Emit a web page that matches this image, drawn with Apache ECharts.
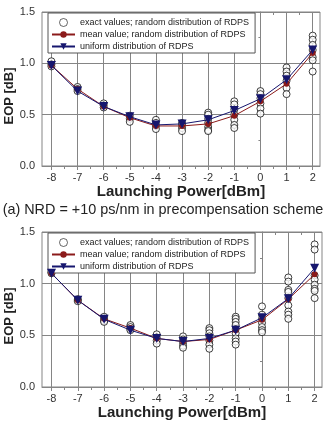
<!DOCTYPE html>
<html lang="en">
<head>
<meta charset="UTF-8">
<title>EOP vs launching power</title>
<script src="https://cdn.jsdelivr.net/npm/echarts@6/dist/echarts.min.js"></script>
<style>
  html, body { margin: 0; padding: 0; background: #fff; }
  #main { width: 326px; height: 424px; }
</style>
</head>
<body>
<div id="main"></div>
<script type="text/javascript">
// launching power [dBm]
var powers = [-8, -7, -6, -5, -4, -3, -2, -1, 0, 1, 2];
var halfTicks = [-8, -7.5, -7, -6.5, -6, -5.5, -5, -4.5, -4, -3.5, -3, -2.5, -2, -1.5, -1, -0.5, 0, 0.5, 1, 1.5, 2];

var nameExact = 'exact values; random distribution of RDPS';
var nameMean = 'mean value; random distribution of RDPS';
var nameUniform = 'uniform distribution of RDPS';

// (a) NRD = +10 ps/nm
var exactA = [
    [1.02, 0.99, 0.97],
    [0.77, 0.75, 0.73],
    [0.61, 0.59, 0.57],
    [0.49, 0.46, 0.43],
    [0.45, 0.42, 0.39, 0.36],
    [0.42, 0.40, 0.37, 0.34],
    [0.52, 0.50, 0.46, 0.42, 0.38, 0.35, 0.34],
    [0.63, 0.60, 0.55, 0.50, 0.45, 0.40, 0.37],
    [0.73, 0.70, 0.66, 0.61, 0.56, 0.51],
    [0.96, 0.92, 0.88, 0.83, 0.76, 0.70],
    [1.27, 1.23, 1.18, 1.13, 1.06, 1.03, 0.92]
];
var meanA = [0.98, 0.75, 0.58, 0.47, 0.39, 0.39, 0.41, 0.49, 0.63, 0.80, 1.10];
var uniformA = [0.98, 0.73, 0.58, 0.48, 0.40, 0.41, 0.45, 0.54, 0.655, 0.84, 1.13];

// (b)
var exactB = [
    [1.11, 1.10],
    [0.85, 0.84, 0.83],
    [0.68, 0.66, 0.64, 0.63],
    [0.60, 0.58, 0.56, 0.55],
    [0.51, 0.48, 0.45, 0.42],
    [0.49, 0.46, 0.43, 0.40, 0.38],
    [0.57, 0.55, 0.52, 0.49, 0.45, 0.41, 0.37],
    [0.68, 0.66, 0.63, 0.60, 0.56, 0.52, 0.47, 0.44, 0.41],
    [0.78, 0.70, 0.66, 0.62, 0.58, 0.55, 0.53],
    [1.06, 1.02, 0.94, 0.92, 0.86, 0.79, 0.73, 0.70, 0.66],
    [1.38, 1.33, 1.08, 1.04, 0.99, 0.95, 0.93, 0.86]
];
var meanB = [1.10, 0.84, 0.66, 0.57, 0.47, 0.44, 0.46, 0.55, 0.65, 0.85, 1.09];
var uniformB = [1.10, 0.84, 0.655, 0.55, 0.47, 0.44, 0.47, 0.55, 0.67, 0.855, 1.15];

var caption = '(a) NRD = +10 ps/nm in precompensation scheme';
var yTitle = 'EOP [dB]';
var xTitle = 'Launching Power[dBm]';

function pairs(vals) {
    return powers.map(function (p, i) { return [p, vals[i]]; });
}
function scatterPairs(groups) {
    var out = [];
    powers.forEach(function (p, i) {
        groups[i].forEach(function (v) { out.push([p, v]); });
    });
    return out;
}

var gridColor = '#858585';
var textColor = '#333';
var font = 'Liberation Sans';

function makeX(g, gap) {
    var base = { gridIndex: g, type: 'value', min: -8.36, max: 2.28 };
    return [
        Object.assign({}, base, {
            position: 'bottom',
            axisLine: { show: true, lineStyle: { color: gridColor } },
            axisTick: { show: true, customValues: powers, length: 4, lineStyle: { color: gridColor } },
            axisLabel: { customValues: powers, fontSize: 11, color: textColor, margin: 6, fontFamily: font },
            splitLine: { show: true, lineStyle: { color: gridColor, width: 1 } },
            name: xTitle,
            nameLocation: 'middle',
            nameGap: gap,
            nameTextStyle: { fontSize: 15, fontWeight: 'bold', color: '#222', fontFamily: font }
        }),
        Object.assign({}, base, {
            position: 'bottom',
            axisLine: { show: false },
            axisTick: { show: true, customValues: halfTicks, length: 3, lineStyle: { color: gridColor } },
            axisLabel: { show: false },
            splitLine: { show: false }
        }),
        Object.assign({}, base, {
            position: 'top',
            axisLine: { show: false },
            axisTick: { show: true, inside: true, customValues: halfTicks, length: 3, lineStyle: { color: gridColor } },
            axisLabel: { show: false },
            splitLine: { show: false }
        })
    ];
}

function makeY(g) {
    return {
        gridIndex: g,
        type: 'value',
        min: 0,
        max: 1.5,
        interval: 0.5,
        axisLine: { show: true, lineStyle: { color: gridColor } },
        axisTick: { show: true, length: 4, lineStyle: { color: gridColor } },
        minorTick: { show: true, splitNumber: 2, length: 2, lineStyle: { color: gridColor } },
        axisLabel: { fontSize: 11, color: textColor, margin: 7, fontFamily: font,
            formatter: function (v) { return v.toFixed(1); } },
        splitLine: { show: true, lineStyle: { color: gridColor, width: 1 } }
    };
}

// rotated y-axis title, placed a bit below the plot middle like the original
function yName(cy) {
    return {
        type: 'text',
        x: 9,
        y: cy,
        rotation: Math.PI / 2,
        style: {
            text: yTitle,
            fill: '#222',
            font: 'bold 13px "Liberation Sans"',
            textAlign: 'center',
            textVerticalAlign: 'middle'
        }
    };
}

function makeLegend(top) {
    return {
        orient: 'vertical',
        left: 48,
        top: top,
        padding: [5, 6, 2, 3],
        itemWidth: 23,
        itemHeight: 8,
        itemGap: 3,
        borderColor: '#555',
        borderWidth: 1,
        backgroundColor: '#fff',
        textStyle: { fontSize: 9, color: '#222', fontFamily: font },
        data: [
            { name: nameExact, itemStyle: { borderWidth: 0.8 } },
            nameMean,
            nameUniform
        ]
    };
}

function makeSeries(xi, yi, exact, mean, uniform) {
    return [
        {
            name: nameExact, type: 'scatter', xAxisIndex: xi, yAxisIndex: yi,
            symbol: 'circle', symbolSize: 7,
            itemStyle: { color: '#fff', borderColor: '#111', borderWidth: 1 },
            data: scatterPairs(exact), z: 3
        },
        {
            name: nameMean, type: 'line', xAxisIndex: xi, yAxisIndex: yi,
            symbol: 'circle', symbolSize: 6,
            itemStyle: { color: '#8b1a1a' },
            lineStyle: { color: '#8b1a1a', width: 1 },
            data: pairs(mean), z: 4
        },
        {
            name: nameUniform, type: 'line', xAxisIndex: xi, yAxisIndex: yi,
            symbol: 'triangle', symbolRotate: 180, symbolSize: 9,
            itemStyle: { color: '#16166e' },
            lineStyle: { color: '#16166e', width: 1 },
            data: pairs(uniform), z: 5
        }
    ];
}

var myChart = echarts.init(document.getElementById('main'));
var option = {
    animation: false,
    backgroundColor: '#fff',
    title: {
        text: caption,
        left: 'center',
        top: 203,
        padding: 0,
        textStyle: { fontSize: 14.4, fontWeight: 'normal', color: '#222', fontFamily: font }
    },
    graphic: [yName(96), yName(316)],
    grid: [
        { left: 42, top: 12, width: 278, height: 154, show: true, borderColor: gridColor, borderWidth: 1 },
        { left: 42, top: 232, width: 280, height: 155, show: true, borderColor: gridColor, borderWidth: 1 }
    ],
    legend: [makeLegend(13), makeLegend(233)],
    xAxis: makeX(0, 18).concat(makeX(1, 17)),
    yAxis: [makeY(0), makeY(1)],
    series: makeSeries(0, 0, exactA, meanA, uniformA).concat(makeSeries(3, 1, exactB, meanB, uniformB))
};
myChart.setOption(option);
</script>
</body>
</html>
